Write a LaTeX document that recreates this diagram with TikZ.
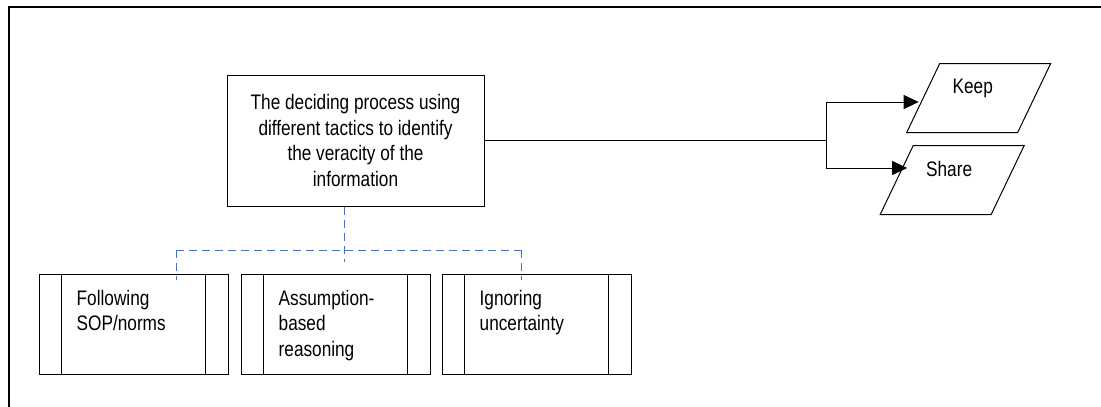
\documentclass[tikz,border=0pt]{standalone}
\usepackage{fontspec}
\setmainfont{Liberation Sans}[FakeStretch=0.82]
\usetikzlibrary{positioning}
\usetikzlibrary{arrows.meta,shapes.geometric}
\usetikzlibrary{calc}
\definecolor{dashblue}{RGB}{68,114,196}
\tikzstyle{procbox}=[rectangle,draw,line width=1pt,minimum width=257pt,minimum height=131pt,inner sep=0pt,align=center]
\tikzstyle{tacticbox}=[rectangle,draw,line width=1pt,minimum width=189pt,minimum height=100pt,inner sep=0pt]
\tikzstyle{tactictext}=[anchor=north west,align=left,inner sep=0pt]
\tikzstyle{iobox}=[trapezium,draw,line width=1pt,trapezium left angle=67,trapezium right angle=113,trapezium stretches=true,minimum width=144pt,minimum height=69pt,inner sep=2pt]
\tikzstyle{iotext}=[anchor=west,inner sep=0pt]
\tikzstyle{edge} = [draw,line width=1pt,-{Triangle[length=15pt,width=14pt]}]
\tikzstyle{plainedge} = [draw,line width=1pt]
\tikzstyle{dashedge} = [draw,line width=1pt,dashblue,dash pattern=on 8pt off 5pt]

\begin{document}
\begin{tikzpicture}[x=1pt,y=-1pt,font=\fontsize{21}{25.7}\selectfont]
    \useasboundingbox (0,0) rectangle (1101,407);
    % outer frame
    \draw[line width=2pt] (9,407) -- (9,7) -- (1101,7);

    % the deciding process
    \node[procbox] (decide) at (355.5,140.5) {The deciding process using\\different tactics to identify\\the veracity of the\\information};

    % tactics
    \foreach \pos/\name in {{(133.5,324.3)/sop}, {(335.5,324.3)/assume}, {(536.5,324.3)/ignore}}
        \node[tacticbox] (\name) at \pos {};
    \foreach \name in {sop,assume,ignore} {
        \draw[plainedge] ([xshift=23pt]\name.north west) -- ([xshift=23pt]\name.south west);
        \draw[plainedge] ([xshift=-23pt]\name.north east) -- ([xshift=-23pt]\name.south east);
    }
    \foreach \name/\label in {sop/{Following\\SOP/norms}, assume/{Assumption-\\based\\reasoning}, ignore/{Ignoring\\uncertainty}}
        \node[tactictext] (\name text) at ([shift={(38pt,-16pt)}]\name.north west) {\label};

    % dashed links to the tactics
    \coordinate (hub) at (344,250);
    \coordinate (hubl) at (176,250);
    \coordinate (hubr) at (521,250);
    \path[dashedge] (decide.south -| hub) -- ([yshift=-12pt]hub);
    \path[dashedge] (hubl) -- (hubr);
    \path[dashedge] (hubl) -- ([yshift=-6pt]hubl |- sop.north);
    \path[dashedge] (hubr) -- ([yshift=-6pt]hubr |- ignore.north);

    % outcomes
    \node[iobox] (keep) at (978.7,98) {};
    \node[iobox] (share) at (952.2,180) {};
    \node[iotext] (keeptext) at ([shift={(13pt,-25pt)}]keep.top left corner) {Keep};
    \node[iotext] (sharetext) at ([shift={(13pt,-24pt)}]share.top left corner) {Share};

    \coordinate (split) at (826,140);
    \path[plainedge] (decide.east) -- (decide.east -| split);
    \path[plainedge] ([yshift=38pt]split) -- ([yshift=-28pt]split);
    \path[edge] ([yshift=38pt]split) -- ([shift={(-4pt,-4pt)}]keep.west);
    \path[edge] ([yshift=-28pt]split) -- ([shift={(11pt,12pt)}]share.west);
\end{tikzpicture}
\end{document}
